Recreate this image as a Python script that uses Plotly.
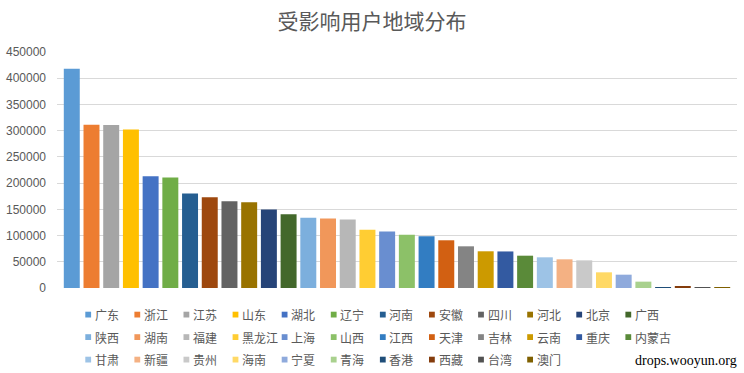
import plotly.graph_objects as go

regions = ["广东", "浙江", "江苏", "山东", "湖北", "辽宁", "河南", "安徽", "四川", "河北", "北京", "广西",
           "陕西", "湖南", "福建", "黑龙江", "上海", "山西", "江西", "天津", "吉林", "云南", "重庆", "内蒙古",
           "甘肃", "新疆", "贵州", "海南", "宁夏", "青海", "香港", "西藏", "台湾", "澳门"]
users = [418000, 311500, 311000, 302000, 213000, 210500, 180000, 173000, 165500, 163500, 149500, 140500,
         134000, 132500, 130500, 111300, 107500, 101700, 98500, 91000, 79500, 70000, 69700, 61600,
         58500, 54700, 52700, 29900, 25400, 12100, 1800, 2000, 1600, 1500]
colors = ["#5B9BD5", "#ED7D31", "#A5A5A5", "#FFC000", "#4472C4", "#70AD47",
          "#255E91", "#9E480E", "#636363", "#997300", "#264478", "#43682B",
          "#7CAFDD", "#F1975A", "#B7B7B7", "#FFCD33", "#698ED0", "#8CC168",
          "#327DC2", "#D26012", "#848484", "#CC9A00", "#335AA1", "#5A8A39",
          "#9DC3E6", "#F4B183", "#C9C9C9", "#FFD966", "#8FAADC", "#A9D18E",
          "#1F4E79", "#843C0C", "#525252", "#7F6000"]
y_ticks = [0, 50000, 100000, 150000, 200000, 250000, 300000, 350000, 400000, 450000]

W, H = 744, 373
ML, MR, MT, MB = 57, 7, 52, 85
PW, PH = W - ML - MR, H - MT - MB


def px_x(px):
    return (px - ML) / PW


def px_y(py):
    return (H - MB - py) / PH


fig = go.Figure()
for name, val, col in zip(regions, users, colors):
    fig.add_trace(go.Bar(x=[name], y=[val], name=name, marker=dict(color=col, line=dict(width=0)),
                         showlegend=False))

# legend grid (12 columns, Excel-style), built from the region names / colours
n_cols, col_pitch, row_pitch = 12, 49.1, 22.5
leg_x0, leg_y0, sq = 85.3, 314.6, 5.8
shapes, annotations = [], []
for i, (name, col) in enumerate(zip(regions, colors)):
    c, r = i % n_cols, i // n_cols
    x0 = leg_x0 + c * col_pitch
    yc = leg_y0 + r * row_pitch
    shapes.append(dict(type="rect", xref="paper", yref="paper",
                       x0=px_x(x0), x1=px_x(x0 + sq), y0=px_y(yc + sq / 2), y1=px_y(yc - sq / 2),
                       fillcolor=col, line=dict(width=0), layer="above"))
    annotations.append(dict(text=name, xref="paper", yref="paper", x=px_x(x0 + 7.5), y=px_y(yc),
                            xanchor="left", yanchor="middle", showarrow=False,
                            font=dict(family="Noto Sans CJK SC", size=12, color="#595959")))

annotations.append(dict(text="drops.wooyun.org", xref="paper", yref="paper", x=px_x(739), y=px_y(360.5),
                        xanchor="right", yanchor="middle", showarrow=False,
                        font=dict(family="Liberation Serif", size=14, color="#000000")))

fig.update_layout(
    width=W, height=H,
    paper_bgcolor="white", plot_bgcolor="white",
    margin=dict(l=ML, r=MR, t=MT, b=MB),
    barmode="overlay", bargap=0.19, showlegend=False,
    title=dict(text="受影响用户地域分布", x=0.5, xanchor="center", y=0.942, yanchor="middle",
               font=dict(family="Noto Sans CJK SC", size=21, color="#595959")),
    xaxis=dict(showticklabels=False, showgrid=False, zeroline=False, showline=False, automargin=False,
               categoryorder="array", categoryarray=regions, range=[-0.75, len(regions) - 0.25]),
    yaxis=dict(range=[0, 450000], tickvals=y_ticks, showgrid=True, gridcolor="#D9D9D9", gridwidth=1,
               zeroline=False, showline=False, tickformat="d", ticklabelstandoff=10, automargin=False,
               tickfont=dict(family="Liberation Sans", size=12, color="#595959")),
    shapes=shapes,
    annotations=annotations,
)

fig.write_html("out.html", config={"displayModeBar": False},
               post_script="document.body.style.margin='0px';")
